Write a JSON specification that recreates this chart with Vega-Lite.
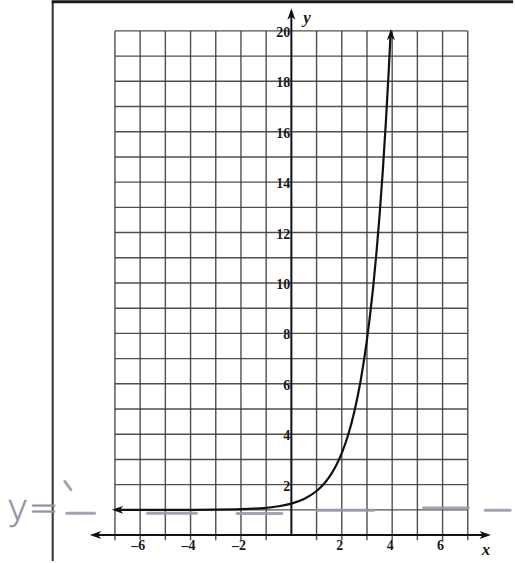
{
  "$schema": "https://vega.github.io/schema/vega-lite/v6.json",
  "width": 515,
  "height": 563,
  "autosize": {"type": "fit", "contains": "padding"},
  "padding": 0,
  "background": "white",
  "config": {"view": {"stroke": null}},
  "datasets": {
    "gridX": [{"v": -7}, {"v": -6}, {"v": -5}, {"v": -4}, {"v": -3}, {"v": -2}, {"v": -1}, {"v": 1}, {"v": 2}, {"v": 3}, {"v": 4}, {"v": 5}, {"v": 6}, {"v": 7}],
    "gridY": [{"v": 1}, {"v": 2}, {"v": 3}, {"v": 4}, {"v": 5}, {"v": 6}, {"v": 7}, {"v": 8}, {"v": 9}, {"v": 10}, {"v": 11}, {"v": 12}, {"v": 13}, {"v": 14}, {"v": 15}, {"v": 16}, {"v": 17}, {"v": 18}, {"v": 19}, {"v": 20}],
    "xTicks": [{"v": -6, "t": "–6"}, {"v": -4, "t": "–4"}, {"v": -2, "t": "–2"}, {"v": 2, "t": "2"}, {"v": 4, "t": "4"}, {"v": 6, "t": "6"}],
    "yTicks": [{"v": 2, "t": "2"}, {"v": 4, "t": "4"}, {"v": 6, "t": "6"}, {"v": 8, "t": "8"}, {"v": 10, "t": "10"}, {"v": 12, "t": "12"}, {"v": 14, "t": "14"}, {"v": 16, "t": "16"}, {"v": 18, "t": "18"}, {"v": 20, "t": "20"}],
    "curve": [
      {"x": -6.9, "y": 1.0}, {"x": -6, "y": 1.0003}, {"x": -5, "y": 1.001}, {"x": -4, "y": 1.003},
      {"x": -3, "y": 1.009}, {"x": -2, "y": 1.028}, {"x": -1.5, "y": 1.048}, {"x": -1, "y": 1.083},
      {"x": -0.5, "y": 1.144}, {"x": 0, "y": 1.25}, {"x": 0.5, "y": 1.433}, {"x": 1, "y": 1.75},
      {"x": 1.25, "y": 1.987}, {"x": 1.5, "y": 2.299}, {"x": 1.75, "y": 2.71}, {"x": 2, "y": 3.25},
      {"x": 2.25, "y": 3.96}, {"x": 2.5, "y": 4.9}, {"x": 2.75, "y": 6.13}, {"x": 3, "y": 7.75},
      {"x": 3.125, "y": 8.75}, {"x": 3.25, "y": 9.88}, {"x": 3.375, "y": 11.19}, {"x": 3.5, "y": 12.69},
      {"x": 3.625, "y": 14.41}, {"x": 3.75, "y": 16.39}, {"x": 3.85, "y": 18.17}, {"x": 3.93, "y": 19.75}
    ],
    "arrows": [
      {"x": -6.9, "y": 1.0, "dir": "left"},
      {"x": 3.95, "y": 19.85, "dir": "up"},
      {"x": -7.77, "y": 0, "dir": "left"},
      {"x": 7.69, "y": 0, "dir": "right"},
      {"x": 0, "y": 20.67, "dir": "up"}
    ],
    "pencil": [
      {"x": -8.91, "x2": -7.81, "y": 0.87, "y2": 0.87},
      {"x": -8.99, "x2": -8.75, "y": 2.13, "y2": 1.8},
      {"x": -5.71, "x2": -3.77, "y": 0.87, "y2": 0.87},
      {"x": -2.15, "x2": -0.38, "y": 0.86, "y2": 0.86},
      {"x": 1.01, "x2": 3.26, "y": 0.99, "y2": 0.99},
      {"x": 5.24, "x2": 7.02, "y": 1.07, "y2": 1.07},
      {"x": 7.69, "x2": 8.68, "y": 0.99, "y2": 0.99}
    ],
    "names": [{"x": 7.72, "y": -0.59, "t": "x"}, {"x": 0.62, "y": 20.51, "t": "y"}],
    "note": [{"x": -11.28, "y": 0.59, "t": "y="}]
  },
  "layer": [
    {
      "data": {"name": "gridX"},
      "mark": {"type": "rule", "stroke": "#3c3c3c", "strokeWidth": 1.4, "opacity": 0.9},
      "encoding": {
        "x": {"field": "v", "type": "quantitative", "scale": {"domain": [-11.561, 8.794], "nice": false, "zero": false}, "axis": null},
        "y": {"datum": -0.2, "type": "quantitative", "scale": {"domain": [-1.028, 21.225], "nice": false, "zero": false}, "axis": null},
        "y2": {"datum": 20}
      }
    },
    {
      "data": {"name": "gridY"},
      "mark": {"type": "rule", "stroke": "#3c3c3c", "strokeWidth": 1.4, "opacity": 0.9},
      "encoding": {
        "y": {"field": "v", "type": "quantitative", "scale": {"domain": [-1.028, 21.225], "nice": false, "zero": false}, "axis": null},
        "x": {"datum": -7, "type": "quantitative", "scale": {"domain": [-11.561, 8.794], "nice": false, "zero": false}, "axis": null},
        "x2": {"datum": 7}
      }
    },
    {
      "data": {"name": "pencil"},
      "mark": {"type": "rule", "stroke": "#9b98a8", "strokeWidth": 3, "strokeCap": "round", "opacity": 0.9},
      "encoding": {
        "x": {"field": "x", "type": "quantitative", "scale": {"domain": [-11.561, 8.794], "nice": false, "zero": false}, "axis": null},
        "x2": {"field": "x2"},
        "y": {"field": "y", "type": "quantitative", "scale": {"domain": [-1.028, 21.225], "nice": false, "zero": false}, "axis": null},
        "y2": {"field": "y2"}
      }
    },
    {
      "data": {"values": [{}]},
      "mark": {"type": "rule", "stroke": "#111111", "strokeWidth": 2},
      "encoding": {
        "x": {"datum": -7.7, "type": "quantitative", "scale": {"domain": [-11.561, 8.794], "nice": false, "zero": false}, "axis": null},
        "x2": {"datum": 7.6},
        "y": {"datum": 0, "type": "quantitative", "scale": {"domain": [-1.028, 21.225], "nice": false, "zero": false}, "axis": null}
      }
    },
    {
      "data": {"values": [{}]},
      "mark": {"type": "rule", "stroke": "#111111", "strokeWidth": 2},
      "encoding": {
        "x": {"datum": 0, "type": "quantitative", "scale": {"domain": [-11.561, 8.794], "nice": false, "zero": false}, "axis": null},
        "y": {"datum": 0, "type": "quantitative", "scale": {"domain": [-1.028, 21.225], "nice": false, "zero": false}, "axis": null},
        "y2": {"datum": 20.6}
      }
    },
    {
      "data": {"values": [{}]},
      "mark": {"type": "rule", "stroke": "#333333", "strokeWidth": 2},
      "encoding": {
        "x": {"datum": -9.47, "type": "quantitative", "scale": {"domain": [-11.561, 8.794], "nice": false, "zero": false}, "axis": null},
        "y": {"datum": -1.03, "type": "quantitative", "scale": {"domain": [-1.028, 21.225], "nice": false, "zero": false}, "axis": null},
        "y2": {"datum": 21.16}
      }
    },
    {
      "data": {"values": [{}]},
      "mark": {"type": "rule", "stroke": "#1a1a1a", "strokeWidth": 3},
      "encoding": {
        "x": {"datum": -9.51, "type": "quantitative", "scale": {"domain": [-11.561, 8.794], "nice": false, "zero": false}, "axis": null},
        "x2": {"datum": 8.8},
        "y": {"datum": 21.16, "type": "quantitative", "scale": {"domain": [-1.028, 21.225], "nice": false, "zero": false}, "axis": null}
      }
    },
    {
      "data": {"name": "curve"},
      "mark": {"type": "line", "stroke": "#111111", "strokeWidth": 2.2, "interpolate": "monotone"},
      "encoding": {
        "x": {"field": "x", "type": "quantitative", "scale": {"domain": [-11.561, 8.794], "nice": false, "zero": false}, "axis": null},
        "y": {"field": "y", "type": "quantitative", "scale": {"domain": [-1.028, 21.225], "nice": false, "zero": false}, "axis": null}
      }
    },
    {
      "data": {"name": "arrows"},
      "mark": {"type": "point", "filled": true, "color": "#111111", "opacity": 1, "size": 130},
      "encoding": {
        "x": {"field": "x", "type": "quantitative", "scale": {"domain": [-11.561, 8.794], "nice": false, "zero": false}, "axis": null},
        "y": {"field": "y", "type": "quantitative", "scale": {"domain": [-1.028, 21.225], "nice": false, "zero": false}, "axis": null},
        "shape": {
          "field": "dir",
          "type": "nominal",
          "legend": null,
          "scale": {
            "domain": ["left", "right", "up"],
            "range": [
              "M -1 0 L 1 -0.7 L 0.45 0 L 1 0.7 Z",
              "M 1 0 L -1 -0.7 L -0.45 0 L -1 0.7 Z",
              "M 0 -1 L -0.7 1 L 0 0.45 L 0.7 1 Z"
            ]
          }
        }
      }
    },
    {
      "data": {"name": "xTicks"},
      "mark": {"type": "text", "font": "Liberation Serif", "fontSize": 14, "fontWeight": "bold", "color": "#1a1a1a", "baseline": "middle", "align": "center", "dx": -2},
      "encoding": {
        "x": {"field": "v", "type": "quantitative", "scale": {"domain": [-11.561, 8.794], "nice": false, "zero": false}, "axis": null},
        "y": {"datum": -0.45, "type": "quantitative", "scale": {"domain": [-1.028, 21.225], "nice": false, "zero": false}, "axis": null},
        "text": {"field": "t"}
      }
    },
    {
      "data": {"name": "yTicks"},
      "mark": {"type": "text", "font": "Liberation Serif", "fontSize": 14, "fontWeight": "bold", "color": "#1a1a1a", "baseline": "middle", "align": "right", "dy": 2},
      "encoding": {
        "y": {"field": "v", "type": "quantitative", "scale": {"domain": [-1.028, 21.225], "nice": false, "zero": false}, "axis": null},
        "x": {"datum": -0.04, "type": "quantitative", "scale": {"domain": [-11.561, 8.794], "nice": false, "zero": false}, "axis": null},
        "text": {"field": "t"}
      }
    },
    {
      "data": {"name": "names"},
      "mark": {"type": "text", "font": "Liberation Serif", "fontSize": 17, "fontStyle": "italic", "fontWeight": "bold", "color": "#1a1a1a", "baseline": "middle", "align": "center"},
      "encoding": {
        "x": {"field": "x", "type": "quantitative", "scale": {"domain": [-11.561, 8.794], "nice": false, "zero": false}, "axis": null},
        "y": {"field": "y", "type": "quantitative", "scale": {"domain": [-1.028, 21.225], "nice": false, "zero": false}, "axis": null},
        "text": {"field": "t"}
      }
    },
    {
      "data": {"name": "note"},
      "mark": {"type": "text", "font": "DejaVu Sans", "fontSize": 36, "fontWeight": 300, "color": "#9491a1", "stroke": "#9491a1", "strokeWidth": 0.6, "baseline": "alphabetic", "align": "left"},
      "encoding": {
        "x": {"field": "x", "type": "quantitative", "scale": {"domain": [-11.561, 8.794], "nice": false, "zero": false}, "axis": null},
        "y": {"field": "y", "type": "quantitative", "scale": {"domain": [-1.028, 21.225], "nice": false, "zero": false}, "axis": null},
        "text": {"field": "t"}
      }
    }
  ]
}
